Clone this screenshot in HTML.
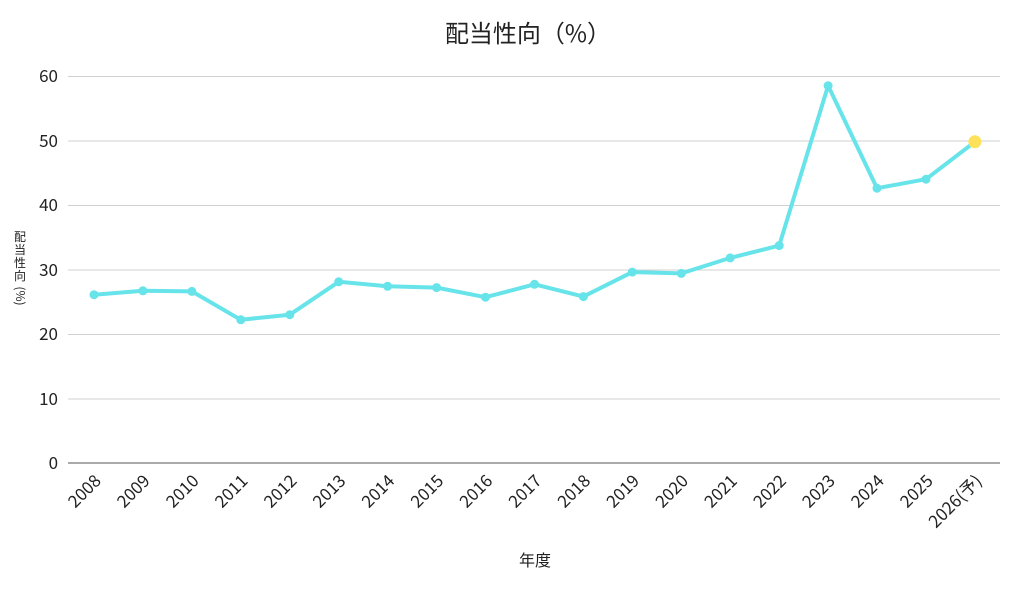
<!DOCTYPE html>
<html><head><meta charset="utf-8"><style>
html,body{margin:0;padding:0;background:#fff;}
svg{display:block;font-family:"Noto Sans CJK JP","Liberation Sans",sans-serif;}
</style></head><body>
<svg width="1024" height="593" viewBox="0 0 1024 593" xmlns="http://www.w3.org/2000/svg">
<text x="528" y="42" text-anchor="middle" font-size="24" fill="#222">配当性向（%）</text>
<g stroke="#d0d0d0" stroke-width="1">
<line x1="68" x2="1000" y1="76.5" y2="76.5"/>
<line x1="68" x2="1000" y1="141" y2="141"/>
<line x1="68" x2="1000" y1="205.5" y2="205.5"/>
<line x1="68" x2="1000" y1="270" y2="270"/>
<line x1="68" x2="1000" y1="334.5" y2="334.5"/>
<line x1="68" x2="1000" y1="399" y2="399"/>
</g>
<line x1="68" x2="1000" y1="463" y2="463" stroke="#aaa" stroke-width="2"/>
<g font-size="17" fill="#222" text-anchor="end">
<text x="58" y="82">60</text>
<text x="58" y="147">50</text>
<text x="58" y="211">40</text>
<text x="58" y="276">30</text>
<text x="58" y="340">20</text>
<text x="58" y="405">10</text>
<text x="58" y="469">0</text>
</g>
<g font-size="12" fill="#222" text-anchor="middle">
<text x="20" y="241">配</text><text x="20" y="254">当</text><text x="20" y="267">性</text><text x="20" y="280">向</text>
<text x="20" y="300" transform="rotate(90 20 296)">(%)</text>
</g>
<text x="535" y="566" text-anchor="middle" font-size="16" fill="#222">年度</text>
<g font-size="17" fill="#222" text-anchor="end">
<text x="102" y="482" transform="rotate(-45 102 482)">2008</text>
<text x="150.9" y="482" transform="rotate(-45 150.9 482)">2009</text>
<text x="199.9" y="482" transform="rotate(-45 199.9 482)">2010</text>
<text x="248.8" y="482" transform="rotate(-45 248.8 482)">2011</text>
<text x="297.8" y="482" transform="rotate(-45 297.8 482)">2012</text>
<text x="346.7" y="482" transform="rotate(-45 346.7 482)">2013</text>
<text x="395.6" y="482" transform="rotate(-45 395.6 482)">2014</text>
<text x="444.6" y="482" transform="rotate(-45 444.6 482)">2015</text>
<text x="493.5" y="482" transform="rotate(-45 493.5 482)">2016</text>
<text x="542.5" y="482" transform="rotate(-45 542.5 482)">2017</text>
<text x="591.4" y="482" transform="rotate(-45 591.4 482)">2018</text>
<text x="640.3" y="482" transform="rotate(-45 640.3 482)">2019</text>
<text x="689.3" y="482" transform="rotate(-45 689.3 482)">2020</text>
<text x="738.2" y="482" transform="rotate(-45 738.2 482)">2021</text>
<text x="787.2" y="482" transform="rotate(-45 787.2 482)">2022</text>
<text x="836.1" y="482" transform="rotate(-45 836.1 482)">2023</text>
<text x="885" y="482" transform="rotate(-45 885 482)">2024</text>
<text x="934" y="482" transform="rotate(-45 934 482)">2025</text>
<text x="982.9" y="482" transform="rotate(-45 982.9 482)">2026(予)</text>
</g>
<polyline fill="none" stroke="#67e3ea" stroke-width="4" stroke-linejoin="round" points="94,294.7 142.9,290.8 191.9,291.4 240.8,319.8 289.8,314.7 338.7,281.8 387.6,286.3 436.6,287.6 485.5,297.2 534.5,284.3 583.4,296.6 632.3,272.1 681.3,273.4 730.2,257.9 779.2,245.6 828.1,85.7 877,188.2 926,179.2 974.9,141.8"/>
<g fill="#67e3ea">
<circle cx="94" cy="294.7" r="4.5"/><circle cx="142.9" cy="290.8" r="4.5"/><circle cx="191.9" cy="291.4" r="4.5"/><circle cx="240.8" cy="319.8" r="4.5"/><circle cx="289.8" cy="314.7" r="4.5"/><circle cx="338.7" cy="281.8" r="4.5"/><circle cx="387.6" cy="286.3" r="4.5"/><circle cx="436.6" cy="287.6" r="4.5"/><circle cx="485.5" cy="297.2" r="4.5"/><circle cx="534.5" cy="284.3" r="4.5"/><circle cx="583.4" cy="296.6" r="4.5"/><circle cx="632.3" cy="272.1" r="4.5"/><circle cx="681.3" cy="273.4" r="4.5"/><circle cx="730.2" cy="257.9" r="4.5"/><circle cx="779.2" cy="245.6" r="4.5"/><circle cx="828.1" cy="85.7" r="4.5"/><circle cx="877" cy="188.2" r="4.5"/><circle cx="926" cy="179.2" r="4.5"/>
</g>
<circle cx="974.9" cy="141.8" r="6.5" fill="#fde15a"/>
</svg>
</body></html>
